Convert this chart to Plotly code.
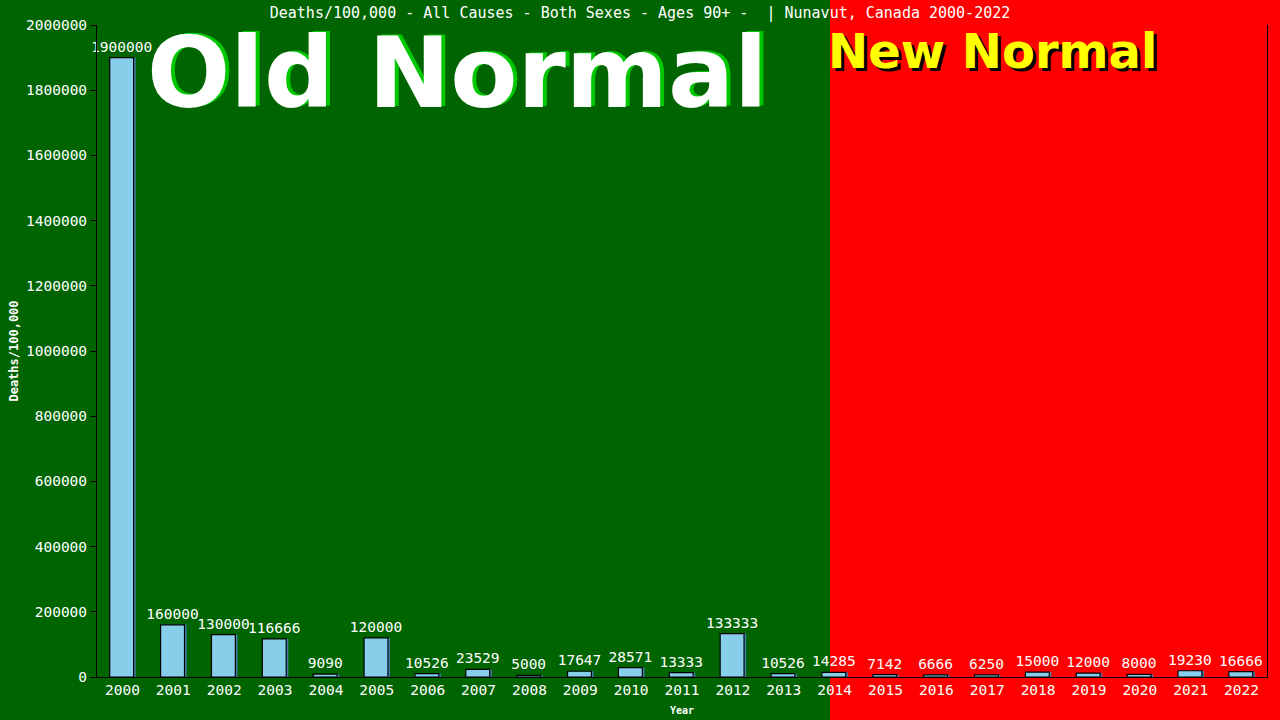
import plotly.graph_objects as go

# data
years = [str(y) for y in range(2000, 2023)]
deaths_per_100k = [1900000, 160000, 130000, 116666, 9090, 120000, 10526, 23529, 5000,
                   17647, 28571, 13333, 133333, 10526, 14285, 7142, 6666, 6250, 15000,
                   12000, 8000, 19230, 16666]
y_ticks = list(range(0, 2000001, 200000))

title_text = "Deaths/100,000 - All Causes - Both Sexes - Ages 90+ -  | Nunavut, Canada 2000-2022"
mono = "DejaVu Sans Mono"

W, H = 1280, 720
L, R, T, B = 97, 13, 25, 43
pw, ph = W - L - R, H - T - B


def px_x(x):
    return (x - L) / pw


def px_y(y):
    return (H - B - y) / ph


fig = go.Figure()

# bar shadow (steelblue, shifted right)
fig.add_trace(go.Bar(
    x=years, y=deaths_per_100k, width=0.47, offset=-0.21,
    marker=dict(color="#4682B4", line=dict(width=0)),
    hoverinfo="skip", showlegend=False,
))
fig.add_trace(go.Bar(
    x=years, y=deaths_per_100k, width=0.47, offset=-0.25,
    marker=dict(color="#87CEEB", line=dict(color="black", width=1.2)),
    text=[str(v) for v in deaths_per_100k], textposition="outside",
    textfont=dict(family=mono, size=14.5, color="white"),
    constraintext="none", cliponaxis=False, showlegend=False,
))

# red "New Normal" region
fig.add_shape(type="rect", xref="paper", yref="paper",
              x0=px_x(830), x1=px_x(W + 5), y0=px_y(H + 5), y1=px_y(-5),
              fillcolor="#FF0000", line=dict(width=0), layer="below")

annots = [
    # text, x, y, color, size, anchor
    ("Old Normal", 461, 72, "#00C800", 98, "center"),
    ("Old Normal", 457, 73, "white", 98, "center"),
    ("New Normal", 829, 54, "black", 48, "left"),
    ("New Normal", 826, 51, "#FFFF00", 48, "left"),
]
for txt, ax, ay, col, sz, anc in annots:
    fig.add_annotation(text="<b>%s</b>" % txt, xref="paper", yref="paper",
                       x=px_x(ax), y=px_y(ay), xanchor=anc, yanchor="middle",
                       showarrow=False,
                       font=dict(family="DejaVu Sans", size=sz, color=col))

fig.update_layout(
    width=W, height=H,
    margin=dict(l=L, r=R, t=T, b=B),
    paper_bgcolor="#006400", plot_bgcolor="rgba(0,0,0,0)",
    barmode="overlay", bargap=0.5,
    title=dict(text=title_text, x=0.5, xanchor="center", y=1 - 13 / H, yanchor="middle",
               font=dict(family=mono, size=15, color="white")),
    font=dict(family=mono, color="white"),
)
fig.update_xaxes(
    type="category", showgrid=False, showline=True, linecolor="black", linewidth=1,
    ticks="", tickfont=dict(family=mono, size=14.5, color="white"), automargin=False,
    title=dict(text="<b>Year</b>", font=dict(family=mono, size=10, color="white"), standoff=9),
)
fig.update_yaxes(
    range=[0, 2000000], tickvals=y_ticks, ticktext=[str(v) for v in y_ticks],
    showgrid=False, zeroline=False, showline=True, linecolor="black", linewidth=1,
    mirror=True, ticks="outside", ticklen=6, tickcolor="black", automargin=False,
    tickfont=dict(family=mono, size=14.5, color="white"),
    title=dict(text="<b>Deaths/100,000</b>", font=dict(family=mono, size=12, color="white"), standoff=4),
)

fig.write_html("out.html", config={"displayModeBar": False},
               post_script="document.body.style.margin='0';")
